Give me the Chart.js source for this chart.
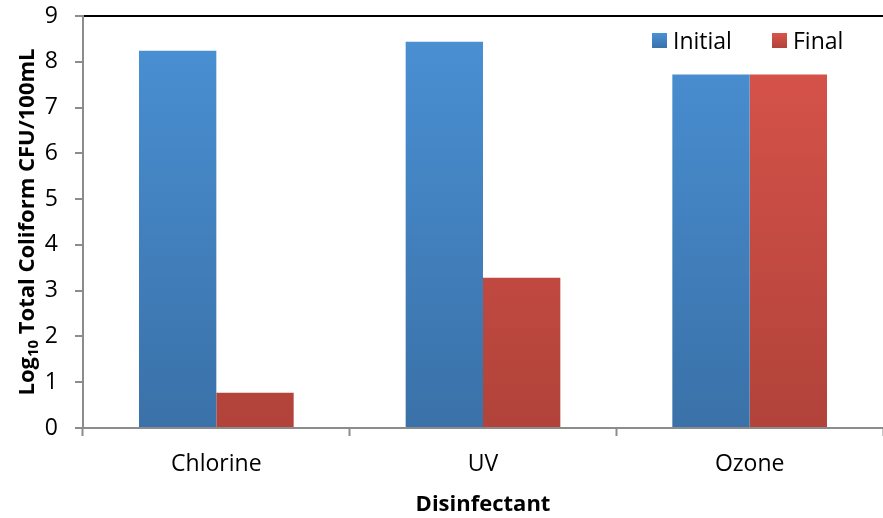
<!DOCTYPE html>
<html>
<head>
<meta charset="utf-8">
<script src="https://cdn.jsdelivr.net/npm/chart.js@4.4.1/dist/chart.umd.min.js"></script>
<style>
  html, body { margin: 0; padding: 0; background: #fff; }
  #wrap { width: 883px; height: 518px; }
</style>
</head>
<body>
<div id="wrap"><canvas id="c" width="883" height="518"></canvas></div>
<script>
// ====== DATA ======
const categories = ['Chlorine', 'UV', 'Ozone'];
const initialVals = [8.24, 8.44, 7.72];
const finalVals   = [0.77, 3.28, 7.72];
const seriesNames = ['Initial', 'Final'];
const yTitle = ['Log', '10', ' Total Coliform CFU/100mL'];

const FONT = '"Open Sans", sans-serif';

// vertical gradient over the chart area
function grad(chart, top, bottom) {
  const a = chart.chartArea;
  if (!a) return top;
  const g = chart.ctx.createLinearGradient(0, a.top, 0, a.bottom);
  g.addColorStop(0, top);
  g.addColorStop(1, bottom);
  return g;
}
const blue = ['#4a91d5', '#3a71a8'];
const red  = ['#da544b', '#b1433a'];

// legend drawn inside the plot, top right
const innerLegend = {
  id: 'innerLegend',
  afterDraw(chart) {
    const ctx = chart.ctx;
    const items = [
      { x: 652, label: seriesNames[0], c: blue },
      { x: 772, label: seriesNames[1], c: red }
    ];
    ctx.save();
    ctx.font = '23px ' + FONT;
    ctx.textBaseline = 'middle';
    items.forEach(it => {
      const g = ctx.createLinearGradient(0, 33, 0, 48);
      g.addColorStop(0, it.c[0]); g.addColorStop(1, it.c[1]);
      ctx.fillStyle = g;
      ctx.fillRect(it.x, 33, 15, 15);
      ctx.fillStyle = '#000';
      ctx.fillText(it.label, it.x + 21, 42);
    });
    ctx.restore();
  }
};

// y title with a real subscript
const yTitlePlugin = {
  id: 'yTitlePlugin',
  afterDraw(chart) {
    const ctx = chart.ctx;
    const big = 'bold 22px ' + FONT, small = 'bold 15px ' + FONT;
    ctx.save();
    ctx.font = big;  const w1 = ctx.measureText(yTitle[0]).width, w3 = ctx.measureText(yTitle[2]).width;
    ctx.font = small; const w2 = ctx.measureText(yTitle[1]).width;
    const total = w1 + w2 + w3;
    ctx.translate(28, 222);
    ctx.rotate(-Math.PI / 2);
    ctx.fillStyle = '#000';
    ctx.textBaseline = 'middle';
    let x = -total / 2;
    ctx.font = big;  ctx.fillText(yTitle[0], x, 0); x += w1;
    ctx.font = small; ctx.fillText(yTitle[1], x, 6); x += w2;
    ctx.font = big;  ctx.fillText(yTitle[2], x, 0);
    ctx.restore();
  }
};

new Chart(document.getElementById('c'), {
  type: 'bar',
  data: {
    labels: categories,
    datasets: [
      { label: seriesNames[0], data: initialVals,
        backgroundColor: c => grad(c.chart, blue[0], blue[1]) },
      { label: seriesNames[1], data: finalVals,
        backgroundColor: c => grad(c.chart, red[0], red[1]) }
    ]
  },
  options: {
    responsive: false,
    animation: false,
    layout: { padding: { top: 16, right: 0, left: 0, bottom: 0 } },
    datasets: { bar: { categoryPercentage: 0.58, barPercentage: 1.0 } },
    plugins: { legend: { display: false }, tooltip: { enabled: false } },
    scales: {
      x: {
        offset: true,
        grid: { offset: true, drawOnChartArea: false, drawTicks: true, tickLength: 8, tickColor: '#8c8c8c', tickWidth: 2 },
        border: { color: '#8c8c8c', width: 2 },
        ticks: { color: '#000', font: { family: FONT, size: 23 }, padding: 15 },
        title: { display: true, text: 'Disinfectant', color: '#000',
                 font: { family: FONT, size: 22, weight: 'bold' }, padding: { top: 0, bottom: 0 } },
        afterFit: s => { s.height = 90; s.paddingLeft = 0; s.paddingRight = 0; }
      },
      y: {
        min: 0, max: 9,
        grid: {
          drawOnChartArea: true,
          color: c => (c.tick && c.tick.value === 9) ? '#000' : 'rgba(0,0,0,0)',
          lineWidth: 2,
          tickLength: 8, tickColor: '#8c8c8c', tickWidth: 2
        },
        border: { color: '#8c8c8c', width: 2 },
        ticks: { stepSize: 1, color: '#000', font: { family: FONT, size: 23 }, padding: 17 },
        afterFit: s => { s.width = 83; s.paddingTop = 0; s.paddingBottom = 0; }
      }
    }
  },
  plugins: [innerLegend, yTitlePlugin]
});
</script>
</body>
</html>
